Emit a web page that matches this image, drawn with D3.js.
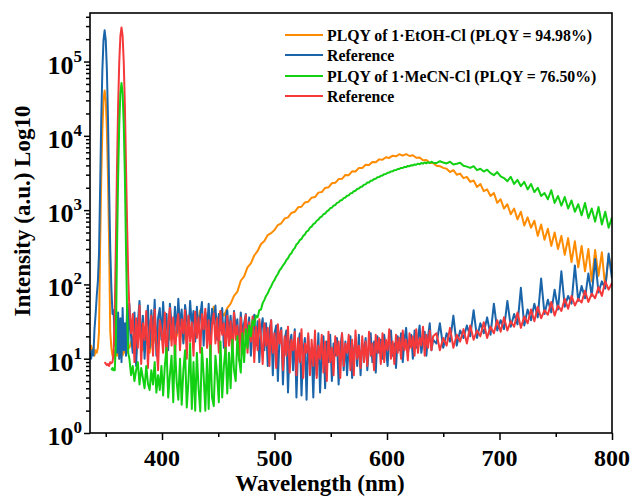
<!DOCTYPE html>
<html>
<head>
<meta http-equiv="Content-Type" content="text/html;charset=utf-8">
<title>PLQY spectra</title>
<script type="text/javascript" src="https://d3js.org/d3.v7.min.js"></script>
<style>
    html, body { margin: 0; padding: 0; background: #fff; }
    text { font-family: "Liberation Serif", "Times New Roman", serif; font-weight: bold; fill: #000; }
    text.xLabel { font-size: 24px; }
    text.yLabel { font-size: 26px; }
    text.axisTitle { font-size: 23px; }
    text.legendText { font-size: 15.8px; }
    path.line { fill: none; stroke-width: 2px; stroke-linejoin: round; }
    .axis line { stroke: #000; stroke-width: 1.5px; }
    .axis path { display: none; }
</style>
</head>
<body>
<script type="text/javascript">

// ---- data (wavelength in nm, intensity in a.u.) ----
var seriesNames = ["PLQY of 1\u00b7EtOH-Cl (PLQY = 94.98%)", "Reference",
                   "PLQY of 1\u00b7MeCN-Cl (PLQY = 76.50%)", "Reference"];
var colors = ["#ff8c00", "#1a64aa", "#12d012", "#f5393b"];

var xMajor = [400, 500, 600, 700, 800];
var xMinor = [350, 450, 550, 650, 750];
var yExp = [0, 1, 2, 3, 4, 5];

// excitation region, 1 nm steps
var orangePeakNm = [336,337,338,339,340,341,342,343,344,345,346,347,348,349,350,351,352,353,354,355,356,357,358,359,360,361,362,363,364,365,366,367,368,369,370];
var orangePeakVal = [13,15,12,14,11,13,12,14,23,339,2750,12300,30200,40700,30200,12300,2750,339,23,14,11,13,10,12,11,14,10,12,15,11,13,12,16,12,14];

var bluePeakNm = [336,337,338,339,340,341,342,343,344,345,346,347,348,349,350,351,352,353,354,355,356,357,358,359,360,361,362,363,364,365,366,367,368,369,370];
var bluePeakVal = [12,10,13,11,25,40,70,110,260,1960,16700,77300,194000,263000,194000,77300,16700,1960,300,90,40,45,15,38,12,42,10,35,9,48,13,30,11,52,16];

var redPeakNm = [349,350,351,352,353,354,355,356,357,358,359,360,361,362,363,364,365,366,367,368,369,370];
var redPeakVal = [9,8.6,8.2,8.5,8,9,8.7,9,12,40,343,3870,25500,98000,220000,288000,220000,98000,25500,3870,600,120];

var greenPeakNm = [355,356,357,358,359,360,361,362,363,364,365,366,367,368,369,370];
var greenPeakVal = [7,7.5,7,7,16,295,2820,14100,37200,51300,37200,14100,2820,295,40,12];

// noisy baseline region, 1.5 nm steps (blue, red, green)
var bandNm = [371,372.5,374,375.5,377,378.5,380,381.5,383,384.5,
              386,387.5,389,390.5,392,393.5,395,396.5,398,399.5,
              401,402.5,404,405.5,407,408.5,410,411.5,413,414.5,
              416,417.5,419,420.5,422,423.5,425,426.5,428,429.5,
              431,432.5,434,435.5,437,438.5,440,441.5,443,444.5,
              446,447.5,449,450.5,452,453.5,455,456.5,458,459.5,
              461,462.5,464,465.5,467,468.5,470,471.5,473,474.5,
              476,477.5,479,480.5,482,483.5,485,486.5,488,489.5,
              491,492.5,494,495.5,497,498.5,500,501.5,503,504.5,
              506,507.5,509,510.5,512,513.5,515,516.5,518,519.5,
              521,522.5,524,525.5,527,528.5,530,531.5,533,534.5,
              536,537.5,539,540.5,542,543.5,545,546.5,548,549.5,
              551,552.5,554,555.5,557,558.5,560,561.5,563,564.5,
              566,567.5,569,570.5,572,573.5,575,576.5,578,579.5,
              581,582.5,584,585.5,587,588.5,590,591.5,593,594.5,
              596,597.5,599,600.5,602,603.5,605,606.5,608,609.5,
              611,612.5,614,615.5,617,618.5,620,621.5,623,624.5,
              626,627.5,629,630.5,632,633.5,635,636.5,638,639.5,
              641];
// long-wavelength tail, 3 nm steps
var tailNm = [644,647,650,653,656,659,662,665,668,671,
              674,677,680,683,686,689,692,695,698,701,
              704,707,710,713,716,719,722,725,728,731,
              734,737,740,743,746,749,752,755,758,761,
              764,767,770,773,776,779,782,785,788,791,
              794,797,800];

var blueBand = [55,20,12,42,8,30,60,15,38,10,
                25,52,14,45,20,62,11,35,48,18,
                58,24,40,13,55,30,19,50,22,64,
                27,46,16,53,35,21,60,28,44,17,
                50,23,38,58,15,42,26,55,20,47,
                30,52,18,40,24,48,14,36,45,20,
                38,16,44,26,34,12,42,22,30,40,
                18,36,11,28,39,15,32,9,26,35,
                13,30,8,24,33,6,22,28,5,20,
                26,4.5,18,24,3.5,16,21,7,25,3,
                15,22,3.2,12,19,2.8,20,8,14,3,
                18,6,22,3.5,13,20,4,17,9,21,
                5,16,11,19,4.5,14,22,7,17,6,
                15,20,5.5,13,18,8,21,6,16,12,
                19,7,15,22,9,17,6.5,20,12,18,
                10,21,14,8,19,24,11,16,7.5,20,
                13,22,9,18,26,12,15,21,10,24,
                14,19,28,12,17,23,11,20,30,13,
                18];
var blueTail = [16,30,14,22,17,38,15,24,19,28,
                20,45,19,30,22,36,21,55,24,33,
                25,60,27,40,29,90,28,46,33,55,
                36,120,40,62,42,85,46,150,50,70,
                55,180,60,95,65,140,70,220,78,110,
                88,260,120];

var redBand = [48,22,40,9,35,14,52,8.5,30,18,
               44,7.5,26,38,11,46,16,7,33,24,
               12,42,9,30,48,15,36,10,27,40,
               13,34,22,45,10,38,17,31,11,43,
               19,36,12,40,25,47,14,33,10,29,
               41,16,35,12,44,21,30,11,38,15,
               32,10,42,18,28,9.5,36,14,25,39,
               12,31,17,37,9,27,13,34,20,8.5,
               30,15,26,8,33,12,22,7.5,29,16,
               24,7,20,11,27,6.5,18,13,23,6,
               19,9,25,5.5,16,12,22,6,18,8,
               24,5.5,15,10,21,6.5,17,5,23,9,
               14,6,20,11,17,5.5,22,8,16,12,
               21,7,18,6,24,10,15,7.5,20,9,
               17,8,23,11,16,7,21,12,19,8.5,
               22,9,18,13,25,10,17,8.5,21,12,
               19,10,24,13,18,9.5,22,14,20,11,
               25,12,19,15,27,11,21,14,24,13,
               20];
var redTail = [22,13,19,15,26,14,21,17,25,16,
               28,18,24,20,31,19,27,22,33,23,
               36,24,32,27,42,26,37,30,46,32,
               50,35,45,39,58,38,52,44,64,47,
               70,52,64,57,82,58,75,65,92,70,
               110,85,105];

var greenBand = [10,6,8,5,7,9,4.5,7.5,5.5,4,
                 8,4.6,3.8,7,4.5,9,3.5,6,3.8,8,
                 3.2,8,14,3,6,11,2.6,15,5,2.8,
                 10,2.4,7,13,2.2,5,16,2.1,9,2,
                 12,4,1.95,14,6,2,10,2.1,15,3,
                 2.3,11,6,2.6,17,3,8,14,3.4,12,
                 4,18,7,5,20,10,6.5,22,9,25,
                 14,28,20,33,28,38,36,45,46,56,
                 62,70,76,86,94,106,114,128,138,155,
                 165,180,192,212,225,250,262,292,308,345,
                 360,395,410,450,470,515,530,580,600,650,
                 670,720,745,800,820,880,900,960,990,1060,
                 1080,1150,1170,1250,1270,1350,1370,1450,1480,1560,
                 1580,1680,1700,1800,1820,1920,1950,2050,2080,2200,
                 2220,2350,2360,2480,2500,2620,2640,2760,2780,2900,
                 2920,3050,3060,3180,3200,3320,3330,3450,3460,3580,
                 3580,3700,3690,3820,3800,3930,3900,4030,3990,4120,
                 4080,4220,4150,4300,4220,4380,4260,4420,4300,4480,
                 4350];
var greenTail = [4300,4550,4380,4250,4480,4100,4200,4350,3950,3850,
                 3700,3900,3450,3600,3300,3500,3150,2950,3250,2850,
                 2700,2450,2800,2250,2550,2100,2400,1900,2250,1750,
                 2000,1550,1700,1400,1850,1250,1550,1150,1500,1050,
                 1350,950,1200,850,1250,780,1050,700,1100,640,
                 950,580,800];

// orange emission, 3 nm steps
var orangeNm = [371,374,377,380,383,386,389,392,395,398,
                401,404,407,410,413,416,419,422,425,428,
                431,434,437,440,443,446,449,452,455,458,
                461,464,467,470,473,476,479,482,485,488,
                491,494,497,500,503,506,509,512,515,518,
                521,524,527,530,533,536,539,542,545,548,
                551,554,557,560,563,566,569,572,575,578,
                581,584,587,590,593,596,599,602,605,608,
                611,614,617,620,623,626,629,632,635,638,
                641,644,647,650,653,656,659,662,665,668,
                671,674,677,680,683,686,689,692,695,698,
                701,704,707,710,713,716,719,722,725,728,
                731,734,737,740,743,746,749,752,755,758,
                761,764,767,770,773,776,779,782,785,788,
                791,794,797,800];
var orangeVal = [14,20,11,25,13,18,12,22,15,28,
                 16,30,18,26,20,35,17,28,22,40,
                 24,45,26,38,30,50,32,44,38,48,
                 55,70,80,112,128,170,192,245,282,350,
                 385,462,490,540,630,665,770,800,915,950,
                 1090,1110,1270,1300,1470,1500,1720,1750,1990,2030,
                 2300,2330,2620,2640,2980,2950,3330,3310,3700,3680,
                 4080,4040,4450,4400,4820,4760,5150,5040,5400,5300,
                 5650,5400,5680,5350,5480,5060,5120,4700,4740,4300,
                 4300,3950,3900,3700,3600,3250,3450,3000,3100,2700,
                 2800,2400,2500,2050,2250,1800,1900,1550,1700,1250,
                 1400,1050,1200,880,1050,750,950,620,800,580,
                 720,450,640,400,560,330,500,300,450,250,
                 420,200,380,170,330,150,300,110,290,130,
                 270,90,240,160];

// ---- layout ----
var W = 631, H = 497;
var plot = {left: 90, right: 612, top: 13, bottom: 433};

var x = d3.scaleLinear().domain([336, 800]).range([plot.left, plot.right]);
var y = d3.scaleLog().domain([1, 4.5e5]).range([plot.bottom, plot.top]);

function pairs(nm, val) {
    var n = Math.min(nm.length, val.length);
    var out = [];
    for (var i = 0; i < n; i++) out.push({nm: nm[i], v: val[i]});
    return out;
}

var series = [
    {name: seriesNames[0], color: colors[0],
     values: pairs(orangePeakNm, orangePeakVal).concat(pairs(orangeNm, orangeVal))},
    {name: seriesNames[1], color: colors[1],
     values: pairs(bluePeakNm, bluePeakVal).concat(pairs(bandNm, blueBand), pairs(tailNm, blueTail))},
    {name: seriesNames[2], color: colors[2],
     values: pairs(greenPeakNm, greenPeakVal).concat(pairs(bandNm, greenBand), pairs(tailNm, greenTail))},
    {name: seriesNames[3], color: colors[3],
     values: pairs(redPeakNm, redPeakVal).concat(pairs(bandNm, redBand), pairs(tailNm, redTail))}
];
// drawing order: orange, blue, red, green on top
var drawOrder = [0, 1, 3, 2];

var svg = d3.select("body").append("svg").attr("width", W).attr("height", H);

svg.append("clipPath").attr("id", "clip")
    .append("rect")
    .attr("x", plot.left).attr("y", plot.top)
    .attr("width", plot.right - plot.left).attr("height", plot.bottom - plot.top);

var line = d3.line()
    .x(function(d) { return x(d.nm); })
    .y(function(d) { return y(d.v); });

svg.append("g").attr("clip-path", "url(#clip)")
    .selectAll("path.line")
    .data(drawOrder.map(function(i) { return series[i]; }))
    .enter().append("path")
    .attr("class", "line")
    .attr("d", function(d) { return line(d.values); })
    .style("stroke", function(d) { return d.color; });

// ---- axes ----
var yMinor = [];
yExp.forEach(function(e) {
    for (var m = 2; m <= 9; m++) {
        var v = m * Math.pow(10, e);
        if (v <= y.domain()[1]) yMinor.push(v);
    }
});

svg.append("g").attr("class", "axis")
    .attr("transform", "translate(0," + plot.bottom + ")")
    .call(d3.axisBottom(x).tickValues(xMajor).tickSize(7).tickFormat(""));
svg.append("g").attr("class", "axis")
    .attr("transform", "translate(0," + plot.bottom + ")")
    .call(d3.axisBottom(x).tickValues(xMinor).tickSize(4).tickFormat(""));
svg.append("g").attr("class", "axis")
    .attr("transform", "translate(" + plot.left + ",0)")
    .call(d3.axisLeft(y).tickValues(yExp.map(function(e) { return Math.pow(10, e); })).tickSize(6).tickFormat(""));
svg.append("g").attr("class", "axis")
    .attr("transform", "translate(" + plot.left + ",0)")
    .call(d3.axisLeft(y).tickValues(yMinor).tickSize(4).tickFormat(""));

// frame
svg.append("rect")
    .attr("x", plot.left).attr("y", plot.top)
    .attr("width", plot.right - plot.left).attr("height", plot.bottom - plot.top)
    .style("fill", "none").style("stroke", "#000").style("stroke-width", 1.6);

// x tick labels
svg.selectAll("text.xLabel")
    .data(xMajor).enter()
    .append("text")
    .attr("class", "xLabel")
    .attr("text-anchor", "middle")
    .attr("x", function(d) { return x(d); })
    .attr("y", plot.bottom + 33)
    .text(function(d) { return d; });

// y tick labels 10^n
var yl = svg.selectAll("text.yLabel")
    .data(yExp).enter()
    .append("text")
    .attr("class", "yLabel")
    .attr("text-anchor", "end")
    .attr("x", plot.left - 8)
    .attr("y", function(d) { return y(Math.pow(10, d)) + 12; });
yl.append("tspan").text("10");
yl.append("tspan").attr("dy", -12).style("font-size", "17px").text(function(d) { return d; });

// axis titles
svg.append("text")
    .attr("class", "axisTitle")
    .attr("text-anchor", "middle")
    .attr("x", 320).attr("y", 491)
    .text("Wavelength (nm)");

svg.append("text")
    .attr("class", "axisTitle")
    .attr("text-anchor", "middle")
    .attr("transform", "translate(30,211) rotate(-90)")
    .text("Intensity (a.u.) Log10");

// ---- legend ----
var legendY = [35, 55, 76, 96];
var legend = svg.append("g").attr("class", "legendWrap")
    .selectAll("g.legend")
    .data(series).enter()
    .append("g")
    .attr("class", "legend")
    .attr("transform", function(d, i) { return "translate(285," + legendY[i] + ")"; });
legend.append("line")
    .attr("x1", 0).attr("x2", 38).attr("y1", 0).attr("y2", 0)
    .style("stroke", function(d) { return d.color; })
    .style("stroke-width", 2);
legend.append("text")
    .attr("class", "legendText")
    .attr("x", 42).attr("y", 5.5)
    .text(function(d) { return d.name; });

</script>
</body>
</html>
